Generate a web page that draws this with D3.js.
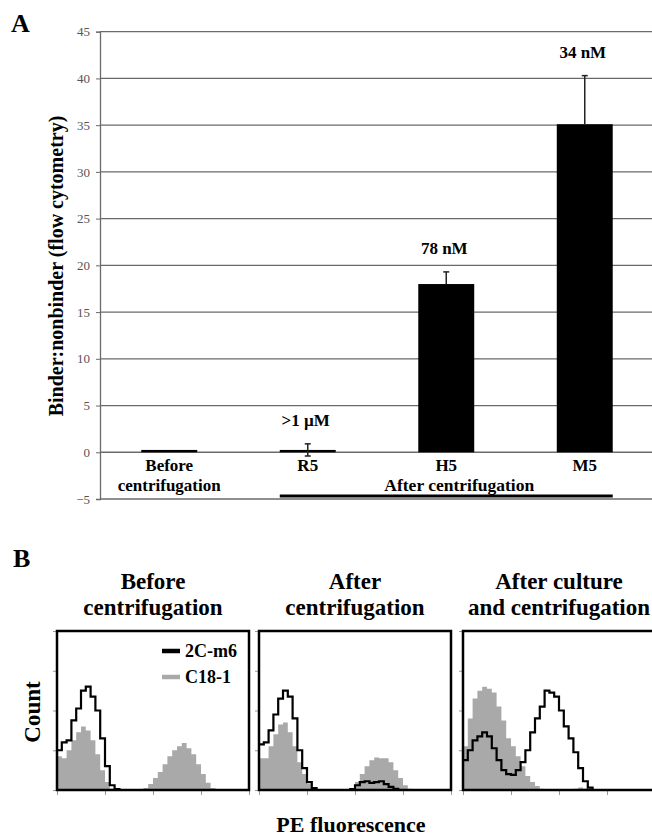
<!DOCTYPE html>
<html>
<head>
<meta charset="utf-8">
<script src="https://cdn.jsdelivr.net/npm/d3@7/dist/d3.min.js"></script>
<style>
  body { margin: 0; background: #fff; }
  text { font-family: "Liberation Serif", "DejaVu Serif", serif; }
</style>
</head>
<body>
<div id="chart"></div>
<script>
// ---- panel A data ----
const categories = ['Before', 'R5', 'H5', 'M5'];
const categoryLabels = [['Before', 'centrifugation'], ['R5'], ['H5'], ['M5']];
const ratioValues = [0.25, 0.25, 18.0, 35.1];
const ratioErrors = [0, 0.65, 1.3, 5.2];
const affinityLabels = ['', '>1 \u00B5M', '78 nM', '34 nM'];
const groupLabel = 'After centrifugation';
const groupMembers = ['R5', 'M5'];
const yTicksA = [-5, 0, 5, 10, 15, 20, 25, 30, 35, 40, 45];

// ---- panel B data ----
const panelTitles = [['Before', 'centrifugation'], ['After', 'centrifugation'], ['After culture', 'and centrifugation']];
const seriesNames = ['2C-m6', 'C18-1'];
const decadeTicks = [0, 1, 2, 3, 4];
const countTicks = [0, 1, 2, 3, 4];
// counts per 0.1-decade bin (40 bins, 0..4 decades)
const p1Binder = [1.0, 1.2, 1.25, 1.75, 2.05, 2.5, 2.6, 2.35, 2.0, 1.3, 0.6, 0.12, 0.02,
  0, 0, 0, 0, 0, 0, 0, 0, 0, 0, 0, 0, 0, 0, 0, 0, 0, 0, 0, 0, 0, 0, 0, 0, 0, 0, 0];
const p1Control = [0.85, 0.8, 1.0, 1.25, 1.45, 1.6, 1.5, 1.25, 0.9, 0.5, 0.2, 0.03, 0,
  0, 0, 0, 0,
  0.02, 0.05, 0.15, 0.3, 0.45, 0.65, 0.85, 1.0, 1.1, 1.18, 1.05, 0.9, 0.65, 0.4, 0.18, 0.05, 0.01,
  0, 0, 0, 0, 0, 0];
const p2Binder = [1.15, 1.2, 1.5, 1.9, 2.3, 2.5, 2.35, 1.8, 1.0, 0.55, 0.2, 0.05,
  0, 0, 0, 0, 0, 0, 0,
  0.02, 0.12, 0.2, 0.22, 0.18, 0.2, 0.22, 0.15, 0.08, 0.03,
  0, 0, 0, 0, 0, 0, 0, 0, 0, 0, 0];
const p2Control = [0.8, 0.8, 1.1, 1.4, 1.65, 1.7, 1.45, 1.1, 0.7, 0.4, 0.15, 0.03,
  0, 0, 0, 0, 0, 0, 0,
  0.05, 0.2, 0.4, 0.6, 0.75, 0.82, 0.8, 0.8, 0.7, 0.5, 0.3, 0.12, 0.03,
  0, 0, 0, 0, 0, 0, 0, 0];
const p3Binder = [0.75, 1.0, 1.25, 1.35, 1.45, 1.35, 1.05, 0.75, 0.5, 0.4, 0.38, 0.5, 0.7, 1.0,
  1.45, 1.8, 2.1, 2.5, 2.45, 2.35, 2.0, 1.6, 1.3, 0.95, 0.55, 0.22, 0.06,
  0, 0, 0, 0, 0, 0, 0, 0, 0, 0, 0, 0, 0];
const p3Control = [1.1, 1.8, 2.3, 2.5, 2.6, 2.55, 2.45, 2.1, 1.75, 1.3, 1.1, 0.85, 0.6, 0.35, 0.2, 0.1, 0.03,
  0, 0, 0, 0, 0, 0,
  0.03, 0.06, 0.04, 0.01,
  0, 0, 0, 0, 0, 0, 0, 0, 0, 0, 0, 0, 0];

const width = 652;
const height = 838;

const svg = d3.select('#chart')
  .append('svg')
  .attr('width', width)
  .attr('height', height)
  .style('background', '#fff');

// ================= Panel A =================
const plotA = { left: 100, right: 654, top: 31.7, bottom: 499 };

const x = d3.scaleBand()
  .domain(categories)
  .range([plotA.left, plotA.right])
  .paddingInner(0.596)
  .paddingOuter(0.298);

const y = d3.scaleLinear()
  .domain([-5, 45])
  .range([plotA.bottom, plotA.top]);

svg.append('text')
  .attr('x', 11)
  .attr('y', 32)
  .style('font-size', '26px')
  .style('font-weight', 'bold')
  .text('A');

// gridlines
svg.append('g')
  .selectAll('line')
  .data(yTicksA)
  .enter()
  .append('line')
  .attr('x1', plotA.left)
  .attr('x2', plotA.right)
  .attr('y1', d => y(d))
  .attr('y2', d => y(d))
  .attr('stroke', '#6a6a6a')
  .attr('stroke-width', 1.3);

// Y-axis
const yAxis = svg.append('g')
  .attr('transform', `translate(${plotA.left},0)`)
  .call(d3.axisLeft(y).tickValues(yTicksA).tickSize(4).tickPadding(6));
yAxis.select('.domain').attr('stroke', '#6a6a6a').attr('stroke-width', 1.3);
yAxis.selectAll('.tick line').attr('stroke', '#6a6a6a');
yAxis.selectAll('text')
  .style('font-family', '"Liberation Serif", serif')
  .style('font-size', '13px')
  .attr('fill', '#555');

// Y-axis label
svg.append('text')
  .attr('transform', 'translate(63,266) rotate(-90)')
  .style('text-anchor', 'middle')
  .style('font-size', '20px')
  .style('font-weight', 'bold')
  .text('Binder:nonbinder (flow cytometry)');

// Bars
svg.selectAll('.bar')
  .data(categories)
  .enter()
  .append('rect')
  .attr('x', d => x(d))
  .attr('y', (d, i) => y(ratioValues[i]))
  .attr('width', x.bandwidth())
  .attr('height', (d, i) => y(0) - y(ratioValues[i]))
  .attr('fill', '#000');

// Error bars
const errGroup = svg.append('g').attr('stroke', '#222').attr('stroke-width', 1.5);
categories.forEach((c, i) => {
  if (!ratioErrors[i]) return;
  const cx = x(c) + x.bandwidth() / 2;
  const lo = ratioValues[i] > 5 ? ratioValues[i] : ratioValues[i] - ratioErrors[i];
  const hi = ratioValues[i] + ratioErrors[i];
  errGroup.append('line').attr('x1', cx).attr('x2', cx).attr('y1', y(lo)).attr('y2', y(hi));
  errGroup.append('line').attr('x1', cx - 3).attr('x2', cx + 3).attr('y1', y(hi)).attr('y2', y(hi));
  if (ratioValues[i] <= 5) {
    errGroup.append('line').attr('x1', cx - 3).attr('x2', cx + 3).attr('y1', y(lo)).attr('y2', y(lo));
  }
});

// affinity labels above bars
svg.selectAll('.kd')
  .data(categories)
  .enter()
  .append('text')
  .attr('x', d => x(d) + x.bandwidth() / 2 - 2)
  .attr('y', (d, i) => y(ratioValues[i] + ratioErrors[i]) - 18)
  .style('text-anchor', 'middle')
  .style('font-size', '17px')
  .style('font-weight', 'bold')
  .text((d, i) => affinityLabels[i]);

// category labels
categories.forEach((c, i) => {
  categoryLabels[i].forEach((line, j) => {
    svg.append('text')
      .attr('x', x(c) + x.bandwidth() / 2)
      .attr('y', 471 + j * 20)
      .style('text-anchor', 'middle')
      .style('font-size', '17px')
      .style('font-weight', 'bold')
      .text(line);
  });
});

// group line + label
const gx0 = x(groupMembers[0]);
const gx1 = x(groupMembers[1]) + x.bandwidth();
svg.append('line')
  .attr('x1', gx0).attr('x2', gx1)
  .attr('y1', 496).attr('y2', 496)
  .attr('stroke', '#000')
  .attr('stroke-width', 3);
svg.append('text')
  .attr('x', (gx0 + gx1) / 2 + 13)
  .attr('y', 491)
  .style('text-anchor', 'middle')
  .style('font-size', '17.5px')
  .style('font-weight', 'bold')
  .text(groupLabel);

// ================= Panel B =================
svg.append('text')
  .attr('x', 13)
  .attr('y', 567)
  .style('font-size', '26px')
  .style('font-weight', 'bold')
  .text('B');

const histData = [
  { binder: p1Binder, control: p1Control },
  { binder: p2Binder, control: p2Control },
  { binder: p3Binder, control: p3Control }
];
const boxLefts = [57, 259, 463];
const boxW = 192;
const boxTop = 631;
const boxBottom = 790;

const yB = d3.scaleLinear().domain([0, 4]).range([boxBottom, boxTop]);

function toPoints(vals) {
  const pts = vals.map((v, i) => ({ x: i / 10, y: v }));
  pts.push({ x: 4, y: vals[vals.length - 1] });
  return pts;
}

histData.forEach((h, k) => {
  const x0 = boxLefts[k];
  const xB = d3.scaleLinear().domain([0, 4]).range([x0, x0 + boxW]);
  const g = svg.append('g');

  g.append('clipPath')
    .attr('id', 'clip' + k)
    .append('rect')
    .attr('x', x0).attr('y', boxTop)
    .attr('width', boxW).attr('height', boxBottom - boxTop);

  // ticks
  const bx = g.append('g')
    .attr('transform', `translate(0,${boxBottom})`)
    .call(d3.axisBottom(xB).tickValues(decadeTicks).tickSize(5).tickFormat(''));
  bx.select('.domain').remove();
  bx.selectAll('.tick line').attr('stroke', '#999');
  const by = g.append('g')
    .attr('transform', `translate(${x0},0)`)
    .call(d3.axisLeft(yB).tickValues(countTicks).tickSize(4).tickFormat(''));
  by.select('.domain').remove();
  by.selectAll('.tick line').attr('stroke', '#999');

  const area = d3.area()
    .curve(d3.curveStepAfter)
    .x(d => xB(d.x))
    .y0(yB(0))
    .y1(d => yB(d.y));
  const line = d3.line()
    .curve(d3.curveStepAfter)
    .x(d => xB(d.x))
    .y(d => yB(d.y));

  const inner = g.append('g').attr('clip-path', `url(#clip${k})`);
  inner.append('path')
    .attr('d', area(toPoints(h.control)))
    .attr('fill', '#a9a9a9');
  inner.append('path')
    .attr('d', line(toPoints(h.binder)))
    .attr('fill', 'none')
    .attr('stroke', '#000')
    .attr('stroke-width', 2.2);

  // box
  g.append('rect')
    .attr('x', x0).attr('y', boxTop)
    .attr('width', boxW).attr('height', boxBottom - boxTop)
    .attr('fill', 'none')
    .attr('stroke', '#000')
    .attr('stroke-width', 2.5);

  // titles
  panelTitles[k].forEach((t, j) => {
    svg.append('text')
      .attr('x', x0 + boxW / 2)
      .attr('y', 589 + j * 26)
      .style('text-anchor', 'middle')
      .style('font-size', '23px')
      .style('font-weight', 'bold')
      .text(t);
  });
});

// legend
const legendColors = ['#000', '#a9a9a9'];
seriesNames.forEach((s, i) => {
  svg.append('line')
    .attr('x1', 162).attr('x2', 180)
    .attr('y1', 651 + i * 26).attr('y2', 651 + i * 26)
    .attr('stroke', legendColors[i])
    .attr('stroke-width', 4.5);
  svg.append('text')
    .attr('x', 185)
    .attr('y', 657 + i * 26)
    .style('font-size', '18px')
    .style('font-weight', 'bold')
    .text(s);
});

svg.append('text')
  .attr('transform', 'translate(40,712) rotate(-90)')
  .style('text-anchor', 'middle')
  .style('font-size', '23px')
  .style('font-weight', 'bold')
  .text('Count');

svg.append('text')
  .attr('x', 351)
  .attr('y', 832)
  .style('text-anchor', 'middle')
  .style('font-size', '22px')
  .style('font-weight', 'bold')
  .text('PE fluorescence');
</script>
</body>
</html>
